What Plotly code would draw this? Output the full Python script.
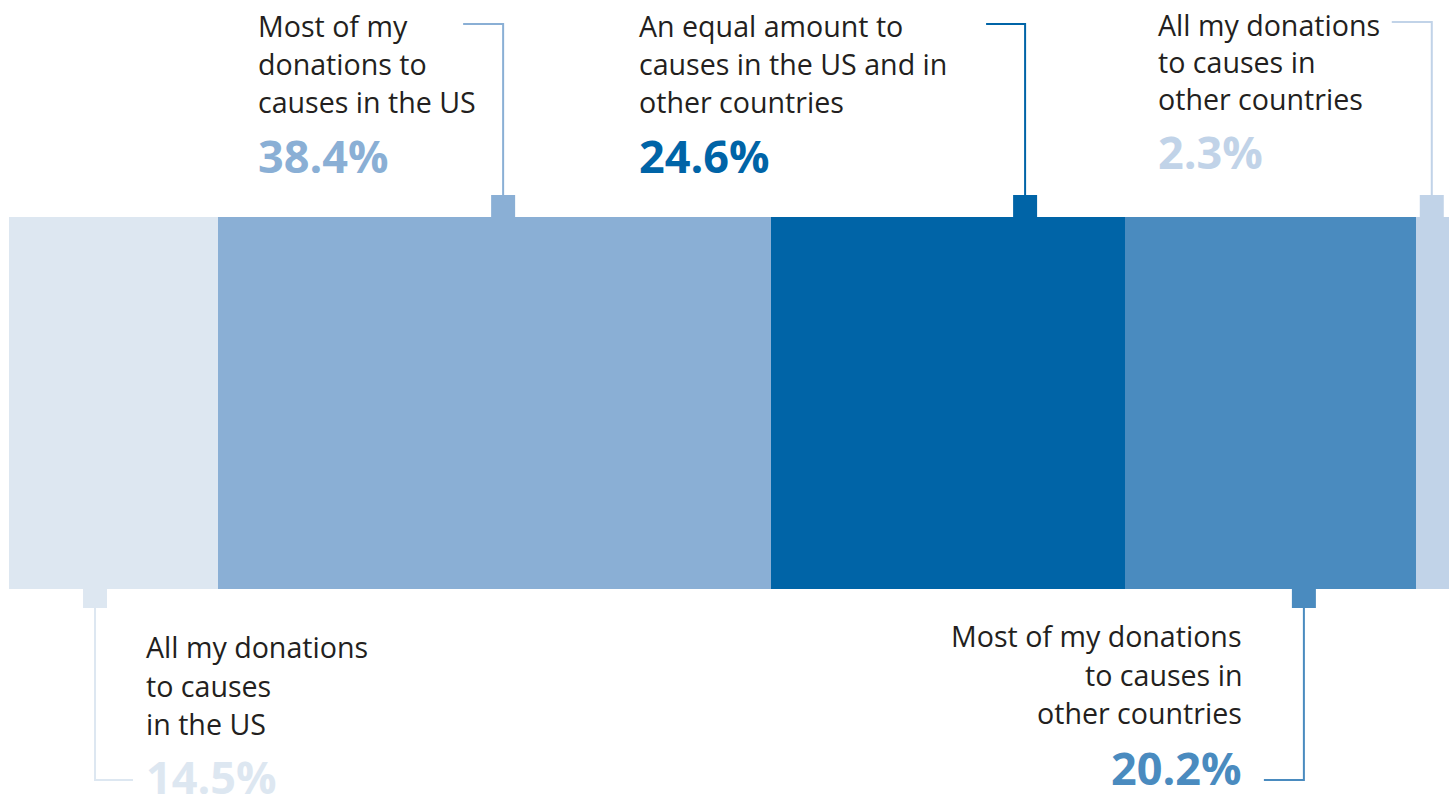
import plotly.graph_objects as go

# Where respondents direct their donations (share of respondents, %)
categories = [
    "All my donations to causes in the US",
    "Most of my donations to causes in the US",
    "An equal amount to causes in the US and in other countries",
    "Most of my donations to causes in other countries",
    "All my donations to causes in other countries",
]
shares = [14.5, 38.4, 24.6, 20.2, 2.3]
label_lines = [
    ["All my donations", "to causes", "in the US"],
    ["Most of my", "donations to", "causes in the US"],
    ["An equal amount to", "causes in the US and in", "other countries"],
    ["Most of my donations", "to causes in", "other countries"],
    ["All my donations", "to causes in", "other countries"],
]
colors = ["#dde7f1", "#8aafd5", "#0064a7", "#4a8bbf", "#c1d3e8"]

W, H = 1454, 798
BAR_LEFT, BAR_RIGHT = 9, 1449
BAR_TOP, BAR_BOTTOM = 217, 589
PX = (BAR_RIGHT - BAR_LEFT) / 100.0  # pixels per percentage point

TEXT_COLOR = "#231f20"
FONT = "Open Sans"
TXT_SIZE = 28.6
PCT_SIZE = 45

# callout styling: side of bar, anchor position inside segment, elbow row,
# horizontal leader length (px), text block x (px), align, line baselines, pct baseline
callouts = [
    dict(side="bottom", frac=0.412, elbow=780, run=38, tx=145, align="left",
         base=[658, 697, 735], pct_base=794),
    dict(side="top", frac=0.516, elbow=24, run=-40, tx=257, align="left",
         base=[37, 75, 113], pct_base=173),
    dict(side="top", frac=0.718, elbow=24, run=-39, tx=638, align="left",
         base=[37, 75, 113], pct_base=173),
    dict(side="bottom", frac=0.615, elbow=780, run=-40, tx=1243, align="right",
         base=[647, 686, 724], pct_base=785),
    dict(side="top", frac=0.48, elbow=22, run=-40, tx=1157, align="left",
         base=[36, 73, 110], pct_base=169),
]

fig = go.Figure()
for cat, val, col in zip(categories, shares, colors):
    fig.add_trace(go.Bar(
        x=[val], y=[(BAR_TOP + BAR_BOTTOM) / 2], orientation="h",
        width=BAR_BOTTOM - BAR_TOP, name=cat,
        marker=dict(color=col, line=dict(width=0)),
        hoverinfo="name+x",
    ))

shapes = []
annotations = []
start = 0.0
for val, col, lines, c in zip(shares, colors, label_lines, callouts):
    anchor = start + val * c["frac"]
    half = 12 / PX
    if c["side"] == "top":
        y0, y1 = BAR_TOP - 22, BAR_TOP
        ly = y0
    else:
        y0, y1 = BAR_BOTTOM, BAR_BOTTOM + 19
        ly = y1
    shapes.append(dict(type="rect", xref="x", yref="y", x0=anchor - half, x1=anchor + half,
                       y0=y0, y1=y1, fillcolor=col, line=dict(width=0), layer="above"))
    end_x = anchor + c["run"] / PX
    shapes.append(dict(type="path", xref="x", yref="y",
                       path=f"M {anchor},{ly} L {anchor},{c['elbow']} L {end_x},{c['elbow']}",
                       line=dict(color=col, width=2)))

    xanchor = c["align"]
    for text, b in zip(lines, c["base"]):
        annotations.append(dict(
            text=text, x=c["tx"] / W, xref="paper", y=b - 0.39 * TXT_SIZE, yref="y",
            xanchor=xanchor, yanchor="middle", showarrow=False, borderpad=0,
            align=c["align"], font=dict(family=FONT, size=TXT_SIZE, color=TEXT_COLOR),
        ))
    annotations.append(dict(
        text=f"<b>{val:.1f}%</b>", x=c["tx"] / W, xref="paper",
        y=c["pct_base"] - 0.39 * PCT_SIZE, yref="y",
        xanchor=xanchor, yanchor="middle", showarrow=False, borderpad=0,
        font=dict(family=FONT, size=PCT_SIZE, color=col),
    ))
    start += val

fig.update_layout(
    width=W, height=H,
    margin=dict(l=0, r=0, t=0, b=0),
    paper_bgcolor="white", plot_bgcolor="white",
    barmode="stack", bargap=0, showlegend=False,
    xaxis=dict(range=[-BAR_LEFT / PX, (W - BAR_LEFT) / PX], visible=False, fixedrange=True),
    yaxis=dict(range=[H, 0], visible=False, fixedrange=True),
    shapes=shapes, annotations=annotations,
)

fig.write_html("out.html", config={"displayModeBar": False})
